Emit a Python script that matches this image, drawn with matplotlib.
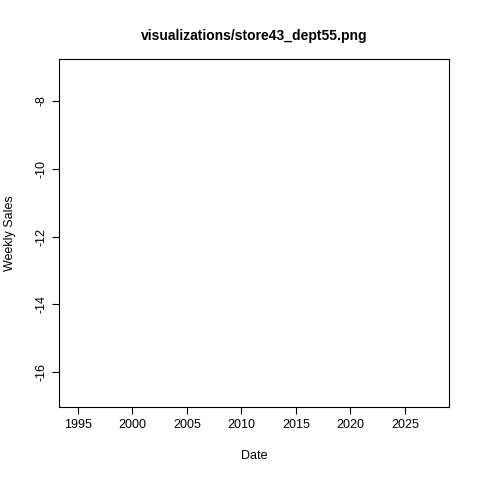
import matplotlib
matplotlib.use("Agg")
import matplotlib.pyplot as plt

TITLE = "visualizations/store43_dept55.png"
X_TICKS = [1995, 2000, 2005, 2010, 2015, 2020, 2025]
Y_TICKS = [-8, -10, -12, -14, -16]
X_LIM = (1993.26, 2029.04)
Y_LIM = (-17.03, -6.76)

plt.rcParams["font.family"] = ["Liberation Sans", "DejaVu Sans"]
fig = plt.figure(figsize=(4.8, 4.8), dpi=100)
ax = fig.add_axes([59 / 480, 1 - 407 / 480, 390 / 480, 348 / 480])
ax.set_xlim(*X_LIM)
ax.set_ylim(*Y_LIM)
ax.set_xticks(X_TICKS)
ax.set_yticks(Y_TICKS)
ax.set_yticklabels([str(v) for v in Y_TICKS], rotation=90, va="center")
ax.tick_params(labelsize=9, length=5)
for s in ax.spines.values():
    s.set_linewidth(0.8)
ax.set_xlabel("Date", fontsize=9, labelpad=14)
ax.set_ylabel("Weekly Sales", fontsize=9, labelpad=14)
ax.set_title(TITLE, fontsize=10, fontweight="bold", pad=14)
fig.savefig("out.png", dpi=100)
